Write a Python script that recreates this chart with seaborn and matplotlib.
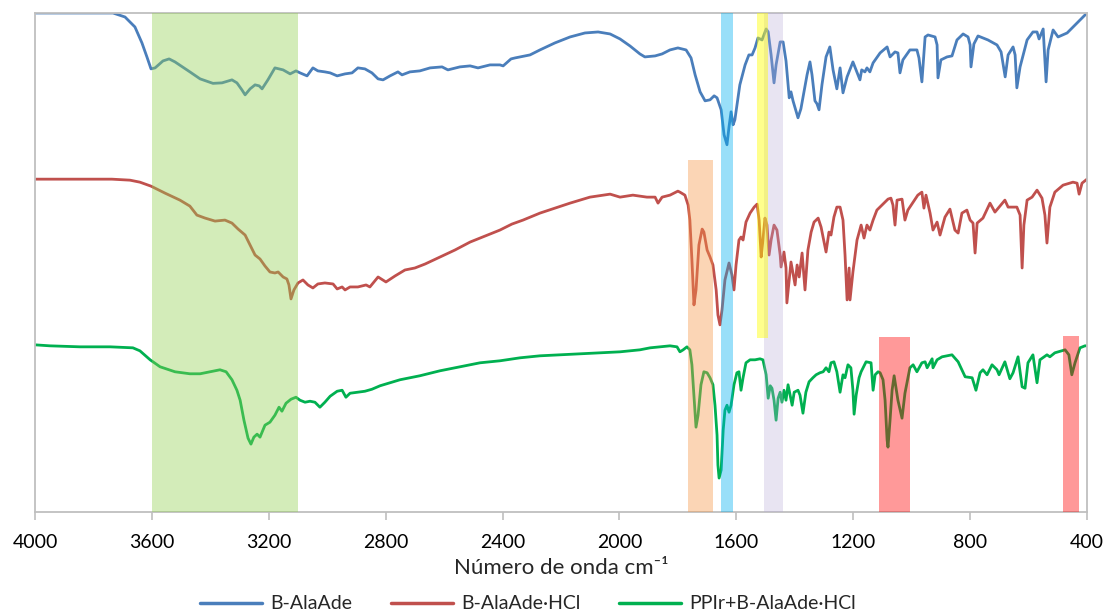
import matplotlib
matplotlib.use("Agg")
import matplotlib.pyplot as plt
import seaborn as sns
import pandas as pd

# ---------------- data ----------------
series_names = ["B-AlaAde", "B-AlaAde·HCl", "PPIr+B-AlaAde·HCl"]
series_colors = ["#4A7EBB", "#C0504D", "#00B050"]

blue_wn = [4000, 3733, 3692, 3658, 3634, 3617, 3603, 3589, 3562, 3541, 3521, 3470, 3435, 3391, 3360, 3326,
           3309, 3292, 3281, 3264, 3247, 3233, 3223, 3203, 3179, 3151, 3127, 3107, 3093, 3069, 3049, 3032,
           3008, 2990, 2966, 2939, 2915, 2895, 2871, 2847, 2826, 2809, 2785, 2758, 2744, 2717, 2683, 2648,
           2607, 2587, 2546, 2511, 2484, 2443, 2409, 2398, 2371, 2357, 2340, 2306, 2272, 2221, 2169, 2118,
           2073, 2032, 1998, 1964, 1930, 1913, 1878, 1854, 1827, 1800, 1772, 1755, 1741, 1724, 1707, 1690,
           1676, 1666, 1652, 1642, 1632, 1625, 1618, 1611, 1605, 1588, 1570, 1557, 1546, 1536, 1526, 1512,
           1498, 1491, 1481, 1471, 1464, 1450, 1440, 1430, 1419, 1413, 1406, 1389, 1379, 1358, 1348, 1341,
           1331, 1324, 1317, 1307, 1293, 1280, 1269, 1256, 1245, 1235, 1221, 1201, 1177, 1171, 1160, 1153,
           1143, 1132, 1108, 1084, 1074, 1057, 1047, 1040, 1030, 1006, 982, 975, 965, 954, 944, 920, 913,
           910, 900, 879, 862, 845, 824, 807, 800, 797, 787, 773, 739, 708, 694, 680, 670, 653, 646, 640,
           629, 605, 585, 571, 564, 550, 547, 540, 533, 516, 499, 468, 434, 400]
blue_t = [100, 100, 99.2, 97.2, 94, 91.2, 88.8, 89, 90.4, 90.8, 90.2, 88.2, 86.8, 85.9, 86, 86.6,
          86, 84.6, 83.6, 84.8, 85.6, 85.4, 84.8, 86.6, 89, 88.6, 87.8, 88.4, 88, 87.4, 89, 88.4,
          88.2, 88, 87.4, 87.8, 88, 89, 88.8, 88, 86.8, 86.6, 87.4, 88.2, 87.6, 88.2, 88.4, 89,
          89.2, 88.6, 89.2, 89.4, 89, 89.6, 89.6, 89.4, 90.8, 91, 91.2, 91.6, 92.6, 94, 95.2, 96,
          96.2, 95.8, 94.8, 93.4, 91.8, 91.2, 91.4, 91.8, 92.6, 93, 92.6, 91, 87.6, 84.2, 82.4, 82.6,
          83.4, 83, 80.6, 75.6, 73.6, 77.2, 80.2, 77.6, 78.6, 85.6, 89.6, 91.6, 91.6, 93, 95, 94.6,
          96.8, 96.2, 91.6, 86, 89.6, 94.2, 94.2, 90.4, 83, 84.2, 82.4, 79, 80.8, 87.6, 90.2, 87.6,
          82.4, 81.8, 80.6, 85.6, 91.2, 93.2, 88.6, 84.8, 89, 84, 87.2, 90.2, 86.6, 88.6, 88.2, 89,
          88.2, 90, 92, 93.2, 91.2, 92.2, 92, 88, 90.6, 92.6, 92.6, 91, 86.2, 95.2, 95.6, 95.2, 93.6,
          87, 90.6, 91.2, 91.4, 94.6, 95.8, 95.2, 93.6, 89.2, 93.8, 95.4, 94.6, 93.6, 92.2, 87.2, 91.6, 93.2, 91.6, 85,
          89.2, 94.6, 96.2, 96.2, 94.8, 96.8, 93.6, 86.2, 92.6, 96.6, 95.2, 96, 98, 100]

red_wn = [4000, 3846, 3737, 3675, 3641, 3603, 3555, 3504, 3470, 3446, 3418, 3384, 3350, 3326, 3305, 3281,
          3264, 3247, 3230, 3213, 3196, 3179, 3168, 3151, 3138, 3131, 3124, 3114, 3100, 3083, 3066, 3049,
          3032, 3008, 2980, 2966, 2949, 2939, 2922, 2895, 2867, 2854, 2826, 2799, 2768, 2734, 2700, 2665,
          2614, 2563, 2511, 2460, 2409, 2368, 2330, 2272, 2221, 2169, 2101, 2032, 1998, 1954, 1906, 1878,
          1868, 1854, 1827, 1800, 1793, 1776, 1765, 1759, 1752, 1745, 1738, 1728, 1717, 1711, 1700, 1690,
          1680, 1669, 1663, 1656, 1649, 1639, 1625, 1615, 1608, 1601, 1591, 1584, 1577, 1567, 1553, 1539,
          1529, 1522, 1515, 1509, 1502, 1495, 1488, 1481, 1471, 1461, 1450, 1447, 1437, 1430, 1427, 1416,
          1413, 1399, 1392, 1385, 1375, 1365, 1355, 1344, 1334, 1320, 1310, 1293, 1283, 1276, 1266, 1256,
          1245, 1235, 1228, 1221, 1214, 1211, 1201, 1187, 1173, 1163, 1153, 1143, 1132, 1119, 1098, 1081,
          1071, 1064, 1057, 1050, 1033, 1023, 1013, 995, 979, 965, 958, 951, 937, 927, 913, 903, 886, 869,
          852, 841, 828, 811, 800, 790, 783, 776, 756, 732, 715, 681, 670, 640, 629, 622, 616, 605, 588,
          571, 554, 544, 537, 527, 510, 482, 448, 434, 427, 417, 400]
red_t = [66.7, 66.7, 66.7, 66.5, 66.1, 65.3, 63.9, 62.5, 61.3, 59.5, 58.9, 58.3, 58.5, 57.9, 56.7, 55.5,
         53.5, 51.5, 50.7, 49.3, 48.1, 47.9, 48.1, 47.1, 46.7, 45.5, 42.7, 44.5, 45.9, 46.5, 45.5, 44.9,
         45.7, 45.9, 45.7, 44.7, 45.1, 44.5, 45.1, 45.1, 45.5, 45.1, 47.1, 46.1, 47.3, 48.5, 48.9, 49.7,
         51.1, 52.5, 54.1, 55.3, 56.5, 57.7, 58.5, 59.9, 60.9, 61.9, 63.1, 63.7, 63.1, 63.5, 63.1, 63.1,
         61.9, 63.1, 63.5, 64.3, 64.1, 63.5, 61.5, 58.5, 50.5, 41.5, 44.5, 53.5, 56.7, 56.1, 52.5, 51.1,
         49.5, 44.5, 39.5, 37.5, 40.5, 46.5, 49.9, 47.5, 44.5, 49.5, 54.5, 55.1, 54.5, 58.1, 59.9, 61.1,
         61.7, 58.5, 51.1, 54.5, 58.9, 57.5, 51.5, 54.5, 57.5, 56.5, 51.5, 49.1, 52.1, 48.9, 41.9, 48.5,
         50.1, 45.5, 49.5, 47.1, 51.9, 44.5, 52.5, 56.1, 58.1, 58.9, 57.1, 52.1, 56.1, 55.5, 59.1, 61.1,
         61.1, 58.5, 51.5, 42.5, 48.9, 42.5, 48.1, 54.5, 57.5, 54.9, 57.5, 56.5, 58.5, 60.5, 61.7, 62.7,
         62.9, 61.5, 57.5, 62.5, 62.7, 58.5, 60.5, 62.1, 63.5, 64.1, 60.9, 63.5, 59.9, 56.5, 58.1, 55.5, 59.1, 60.7,
         56.5, 55.9, 59.9, 60.5, 58.5, 57.9, 51.9, 57.9, 58.9, 61.9, 60.1, 62.5, 61.1, 61.1, 59.5, 48.9, 57.5, 62.5, 63.1,
         64.5, 62.9, 59.5, 53.9, 61.1, 64.1, 65.5, 66.1, 65.9, 63.7, 65.9, 66.7]

green_wn = [4000, 3949, 3846, 3743, 3665, 3641, 3606, 3572, 3521, 3470, 3435, 3401, 3367, 3346, 3326, 3309,
            3298, 3285, 3271, 3261, 3251, 3240, 3230, 3213, 3196, 3179, 3165, 3155, 3141, 3124, 3107, 3093,
            3076, 3059, 3042, 3025, 3008, 2990, 2966, 2949, 2936, 2922, 2895, 2871, 2847, 2819, 2751, 2683,
            2614, 2546, 2477, 2409, 2340, 2272, 2203, 2135, 2067, 1998, 1930, 1895, 1827, 1803, 1793, 1782,
            1769, 1759, 1752, 1745, 1738, 1731, 1721, 1711, 1700, 1690, 1680, 1673, 1666, 1663, 1659, 1652,
            1645, 1639, 1632, 1625, 1618, 1608, 1598, 1591, 1584, 1577, 1567, 1553, 1536, 1519, 1509, 1498,
            1491, 1484, 1478, 1471, 1464, 1457, 1450, 1444, 1437, 1430, 1423, 1416, 1409, 1402, 1389, 1382,
            1372, 1362, 1351, 1338, 1327, 1314, 1303, 1293, 1283, 1276, 1266, 1256, 1245, 1235, 1228, 1218,
            1208, 1201, 1197, 1190, 1180, 1173, 1156, 1139, 1132, 1125, 1115, 1108, 1098, 1091, 1084, 1081,
            1074, 1067, 1060, 1047, 1033, 1023, 1006, 995, 982, 965, 954, 947, 930, 927, 913, 896, 862, 841,
            817, 793, 780, 766, 756, 742, 725, 708, 701, 681, 664, 653, 636, 622, 612, 602, 585, 571, 561,
            537, 527, 510, 475, 462, 452, 441, 424, 407, 400]
green_t = [33.5, 33.3, 33.1, 33.1, 32.9, 32.3, 30.5, 29.1, 28.1, 27.7, 27.7, 28.1, 28.5, 28.1, 26.5, 24.4,
           22.4, 18.4, 14.8, 13.6, 15, 15.6, 15, 17.4, 18, 19.4, 21, 20.2, 21.8, 22.6, 23, 22.4,
           22, 22.2, 22, 21, 22, 23.2, 24.2, 24.4, 23, 23.8, 24, 24.2, 24.6, 25.3, 26.5, 27.3,
           28.3, 29.1, 29.9, 30.3, 30.9, 31.3, 31.5, 31.7, 31.9, 32.1, 32.5, 32.9, 33.3, 33.1, 32.1, 32.5,
           33.1, 32.5, 29.5, 23.4, 17, 19.4, 25.5, 28.1, 27.9, 26.9, 25.5, 21.4, 15.4, 9.4, 6.8, 8.4,
           16.4, 20.4, 21.4, 20, 21.4, 25.5, 27.9, 28.1, 24.4, 26.9, 29.9, 30.5, 30.5, 30.7, 30.5, 27.5,
           22.8, 25.3, 24.8, 22.4, 18.4, 22.8, 24, 22, 24.4, 22.4, 25.5, 23.4, 21.4, 24, 24.4, 23.4,
           19.8, 24, 26.1, 26.9, 27.5, 27.9, 28.1, 28.9, 28.1, 29.9, 30.1, 28.1, 24, 27.5, 26.9, 29.5,
           28.9, 24.4, 19.6, 23.4, 26.9, 28.1, 30.1, 29.9, 24.4, 27.5, 28.1, 27.9, 26.5, 22.4, 14.4, 13,
           18.4, 24.4, 27.3, 22.4, 18.8, 23.8, 28.9, 29.5, 28.1, 29.9, 30.1, 28.9, 30.7, 28.9, 30.5, 31.1, 31.5, 30.1,
           27.1, 26.9, 24.4, 27.9, 28.5, 27.5, 29.5, 28.5, 27.5, 30.1, 26.7, 27.9, 31.1, 25.1, 24.8, 29.9, 31.5, 25.9, 30.5,
           31.5, 31.1, 31.9, 32.5, 31.5, 27.5, 29.9, 32.9, 33.3, 33.3]

# highlighted bands: (from, to, bottom, top, colour, alpha)
band_from = [3600, 1765, 1652, 1505, 1529, 1112, 482]
band_to = [3100, 1680, 1611, 1440, 1491, 1005, 427]
band_bottom = [0, 0, 0, 0, 34.9, 0, 0]
band_top = [100, 70.5, 100, 100, 100, 35.1, 35.3]
band_colors = ["#92D050", "#F79646", "#00B0F0", "#B4A7D6", "#FFFF00", "#FF0000", "#FF0000"]
band_alpha = [0.4, 0.4, 0.4, 0.3, 0.45, 0.4, 0.4]

x_ticks = list(range(4000, 399, -400))

# ---------------- figure ----------------
sns.set_theme(style="white")
plt.rcParams["font.family"] = ["Lato", "DejaVu Sans"]

frames = []
for name, wn, t in zip(series_names, [blue_wn, red_wn, green_wn], [blue_t, red_t, green_t]):
    frames.append(pd.DataFrame({"wn": wn, "T": t, "Serie": name}))
df = pd.concat(frames, ignore_index=True)

fig = plt.figure(figsize=(11.07, 6.15), dpi=100)
ax = fig.add_axes([35 / 1107, 1 - 512 / 615, 1052 / 1107, 499 / 615])

sns.lineplot(data=df, x="wn", y="T", hue="Serie", hue_order=series_names,
             palette=series_colors, sort=False, estimator=None, linewidth=2.0, ax=ax, zorder=2)

ax.set_xlim(4000, 400)
ax.set_ylim(0, 100)

for f, t, b, tp, c, a in zip(band_from, band_to, band_bottom, band_top, band_colors, band_alpha):
    ax.axvspan(f, t, ymin=b / 100, ymax=tp / 100, color=c, alpha=a, lw=0, zorder=3)

ax.set_xticks(x_ticks)
ax.set_xticklabels([str(v) for v in x_ticks], fontsize=14, color="#000000")
ax.set_yticks([])
ax.set_ylabel("")
ax.tick_params(axis="x", direction="out", length=6, width=1.2, color="#BFBFBF", pad=10, bottom=True)
for s in ax.spines.values():
    s.set_color("#BFBFBF")
    s.set_linewidth(1.3)

ax.set_xlabel("Número de onda cm⁻¹", fontsize=16, labelpad=5)

sns.move_legend(ax, "center", bbox_to_anchor=(528 / 1107, 0.018), bbox_transform=fig.transFigure,
                ncol=3, frameon=False, title=None, fontsize=14, handlelength=3.2,
                columnspacing=2.0, handletextpad=0.4, borderaxespad=0)
for line in ax.get_legend().get_lines():
    line.set_linewidth(2.5)

fig.savefig("out.png", dpi=100)
